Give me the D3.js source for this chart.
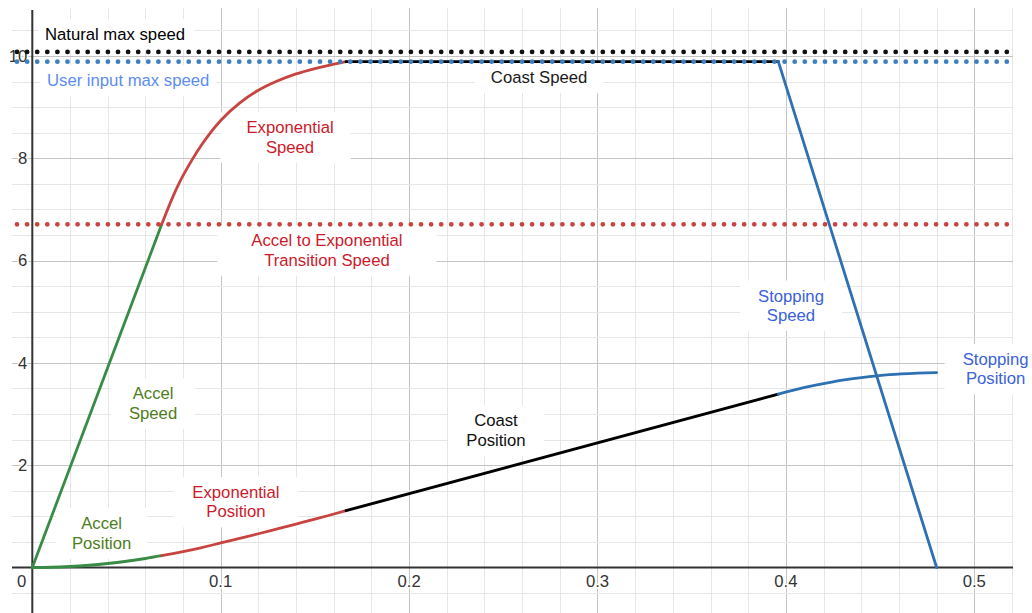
<!DOCTYPE html>
<html>
<head>
<meta charset="utf-8">
<script src="https://cdn.jsdelivr.net/npm/d3@7"></script>
<style>
  html, body { margin: 0; padding: 0; background: #fff; }
  svg { display: block; }
  text { font-family: "Liberation Sans", Arial, sans-serif; }
</style>
</head>
<body>
<svg id="chart" width="1032" height="613"></svg>
<script>
// ---------- data ----------
const xTicks = [0.1, 0.2, 0.3, 0.4, 0.5];
const xTickLabels = ["0.1", "0.2", "0.3", "0.4", "0.5"];
const yTicks = [2, 4, 6, 8, 10];
const yTickLabels = ["2", "4", "6", "8", "10"];

const naturalMaxSpeed = 10.08;
const userMaxSpeed = 9.89;
const transitionSpeed = 6.71;

const accelSpeedT = [0, 0.0687];
const accelSpeedV = [0, 6.71];
const expSpeedT = [0.0687, 0.075, 0.08, 0.09, 0.1, 0.11, 0.12, 0.13, 0.14, 0.15, 0.16, 0.1665];
const expSpeedV = [6.71, 7.28, 7.66, 8.27, 8.74, 9.08, 9.33, 9.51, 9.65, 9.755, 9.84, 9.89];
const coastSpeedT = [0.1665, 0.396];
const coastSpeedV = [9.89, 9.89];
const stopSpeedT = [0.396, 0.480];
const stopSpeedV = [9.89, 0];

const accelPosT = [0, 0.01, 0.02, 0.03, 0.04, 0.05, 0.06, 0.0687];
const accelPosP = [0, 0.005, 0.02, 0.044, 0.078, 0.122, 0.176, 0.23];
const expPosT = [0.0687, 0.08, 0.09, 0.1, 0.11, 0.12, 0.13, 0.14, 0.15, 0.1665];
const expPosP = [0.23, 0.31, 0.39, 0.48, 0.57, 0.66, 0.755, 0.85, 0.945, 1.11];
const coastPosT = [0.1665, 0.396];
const coastPosP = [1.11, 3.39];
const stopPosT = [0.396, 0.41, 0.425, 0.44, 0.455, 0.47, 0.48];
const stopPosP = [3.39, 3.52, 3.63, 3.71, 3.77, 3.80, 3.81];

const labelTexts = [
  ["Natural max speed"],
  ["User input max speed"],
  ["Coast Speed"],
  ["Exponential", "Speed"],
  ["Accel to Exponential", "Transition Speed"],
  ["Stopping", "Speed"],
  ["Stopping", "Position"],
  ["Coast", "Position"],
  ["Accel", "Speed"],
  ["Exponential", "Position"],
  ["Accel", "Position"]
];

// ---------- layout / style ----------
const W = 1032, H = 613;
const plot = { left: 12, right: 1013, top: 8, bottom: 613 };
const x = d3.scaleLinear().domain([0, 0.5]).range([32.3, 974.3]);
const y = d3.scaleLinear().domain([0, 10]).range([567.5, 56]);

const C = { red: "#c74440", green: "#388c46", blue: "#2d70b3", blueDot: "#3f7fc0", black: "#000" };
const labelLayout = [
  { x: 0.0067, y: 10.31, anchor: "start", color: "#000", padL: 6, padR: 10 },
  { x: 0.0078, y: 9.41, anchor: "start", color: "#5b8def", padL: 7, padR: 7 },
  { x: 0.2690, y: 9.47, anchor: "middle", color: "#1a1a1a", padL: 16, padR: 16 },
  { x: 0.1368, y: 8.49, anchor: "middle", color: "#cc1a2b", padL: 26, padR: 17 },
  { x: 0.1564, y: 6.28, anchor: "middle", color: "#cc1a2b", padL: 34, padR: 34 },
  { x: 0.4027, y: 5.20, anchor: "middle", color: "#3a62dc", padL: 18, padR: 18 },
  { x: 0.5113, y: 3.96, anchor: "middle", color: "#3a62dc", padL: 18, padR: 18 },
  { x: 0.2461, y: 2.76, anchor: "middle", color: "#111", padL: 18, padR: 18 },
  { x: 0.0641, y: 3.29, anchor: "middle", color: "#4e7d22", padL: 18, padR: 18 },
  { x: 0.1081, y: 1.36, anchor: "middle", color: "#cc1a2b", padL: 18, padR: 18 },
  { x: 0.0368, y: 0.75, anchor: "middle", color: "#4e7d22", padL: 16, padR: 16 }
];
const FS = 16.7;

const svg = d3.select("#chart");
svg.append("rect").attr("width", W).attr("height", H).attr("fill", "#fff");

const g = svg.append("g");

// ---------- grid ----------
const grid = g.append("g");
const xi0 = Math.ceil(x.invert(plot.left) / 0.02), xi1 = Math.floor(x.invert(plot.right) / 0.02);
const xGrid = d3.range(xi0, xi1 + 1).map(i => ({ v: i * 0.02, major: i % 5 === 0 }));
const yi0 = Math.ceil(y.invert(plot.bottom) / 0.5), yi1 = Math.floor(y.invert(plot.top) / 0.5);
const yGrid = d3.range(yi0, yi1 + 1).map(i => ({ v: i * 0.5, major: i % 4 === 0 }));

grid.selectAll(".gx").data(xGrid.filter(d => d.v !== 0)).join("line")
  .attr("x1", d => Math.round(x(d.v)) + 0.5).attr("x2", d => Math.round(x(d.v)) + 0.5)
  .attr("y1", plot.top).attr("y2", plot.bottom)
  .attr("stroke", d => d.major ? "#c4c4c4" : "#e6e6e6").attr("stroke-width", 1);
grid.selectAll(".gy").data(yGrid.filter(d => d.v !== 0)).join("line")
  .attr("y1", d => Math.round(y(d.v)) + 0.5).attr("y2", d => Math.round(y(d.v)) + 0.5)
  .attr("x1", plot.left).attr("x2", plot.right)
  .attr("stroke", d => d.major ? "#c4c4c4" : "#e6e6e6").attr("stroke-width", 1);

// ---------- label backgrounds (under curves) ----------
const bgG = g.append("g");

// ---------- axes ----------
g.append("line").attr("x1", plot.left).attr("x2", plot.right)
  .attr("y1", y(0)).attr("y2", y(0)).attr("stroke", "#333").attr("stroke-width", 2);
g.append("line").attr("x1", x(0)).attr("x2", x(0))
  .attr("y1", plot.top + 2).attr("y2", plot.bottom).attr("stroke", "#333").attr("stroke-width", 2);

// ---------- tick labels ----------
const tickG = g.append("g").attr("font-size", FS).attr("fill", "#333")
  .attr("stroke", "#fff").attr("stroke-width", 3).attr("paint-order", "stroke")
  .attr("stroke-linejoin", "round");
tickG.selectAll(".xt").data(xTicks).join("text")
  .attr("x", d => x(d)).attr("y", y(0) + 19.5).attr("text-anchor", "middle")
  .text((d, i) => xTickLabels[i]);
tickG.append("text").attr("x", x(0) - 6).attr("y", y(0) + 19.5).attr("text-anchor", "end").text("0");
tickG.selectAll(".yt").data(yTicks).join("text")
  .attr("x", x(0) - 5).attr("y", d => y(d) + 5.8).attr("text-anchor", "end")
  .text((d, i) => yTickLabels[i]);

// ---------- curves ----------
const line = d3.line().x(d => x(d[0])).y(d => y(d[1])).curve(d3.curveCatmullRom.alpha(0.5));
const zip = (a, b) => a.map((v, i) => [v, b[i]]);
const curves = [
  { d: zip(accelSpeedT, accelSpeedV), c: C.green },
  { d: zip(expSpeedT, expSpeedV), c: C.red },
  { d: zip(coastSpeedT, coastSpeedV), c: C.black },
  { d: zip(stopSpeedT, stopSpeedV), c: C.blue },
  { d: zip(accelPosT, accelPosP), c: C.green },
  { d: zip(expPosT, expPosP), c: C.red },
  { d: zip(coastPosT, coastPosP), c: C.black },
  { d: zip(stopPosT, stopPosP), c: C.blue }
];
g.selectAll(".curve").data(curves).join("path")
  .attr("d", d => line(d.d)).attr("fill", "none")
  .attr("stroke", d => d.c).attr("stroke-width", 2.8)
  .attr("stroke-linecap", "round").attr("stroke-linejoin", "round");

// ---------- dotted reference lines (drawn over curves) ----------
const refLines = [
  { v: naturalMaxSpeed, color: "#111" },
  { v: userMaxSpeed, color: C.blueDot },
  { v: transitionSpeed, color: C.red }
];
g.selectAll(".ref").data(refLines).join("line")
  .attr("x1", plot.left + 5).attr("x2", plot.right)
  .attr("y1", d => y(d.v)).attr("y2", d => y(d.v))
  .attr("stroke", d => d.color).attr("stroke-width", 4.8)
  .attr("stroke-linecap", "round").attr("stroke-dasharray", "0 10.1");

// ---------- annotation labels ----------
const LH = 19.5;
labelTexts.forEach((lines, i) => {
  const L = labelLayout[i];
  const t = g.append("text").attr("font-size", FS).attr("fill", L.color)
    .attr("text-anchor", L.anchor);
  lines.forEach((s, k) => {
    t.append("tspan").attr("x", x(L.x)).attr("y", y(L.y) + k * LH).text(s);
  });
  const bb = t.node().getBBox();
  bgG.append("rect").attr("fill", "#fff")
    .attr("x", bb.x - L.padL).attr("y", bb.y - 6)
    .attr("width", bb.width + L.padL + L.padR).attr("height", bb.height + 12);
});
</script>
</body>
</html>
